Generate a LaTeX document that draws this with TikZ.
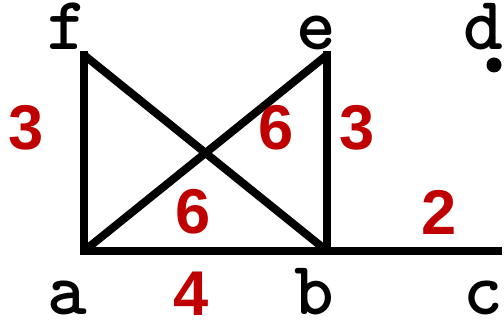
\documentclass[tikz,border=0pt]{standalone}
\usepackage{fontspec}
\newfontfamily\numfont{Liberation Sans}
\newfontfamily\vfont{lmmonolt10-bold}[Extension=.otf]
\definecolor{wred}{RGB}{192,0,0}
\begin{document}
\begin{tikzpicture}[x=0.02cm, y=-0.02cm,
        edge/.style={line width=0.16cm},
        flatedge/.style={line width=0.16cm, line cap=rect},
        vname/.style={font=\fontsize{43}{43}\selectfont\vfont, inner sep=0pt, anchor=base},
        weight/.style={font=\fontsize{36}{36}\selectfont\numfont\bfseries, text=wred, inner sep=0pt},
        dot/.style={circle, fill, inner sep=0pt, minimum size=0.3cm}
        ]
      \useasboundingbox (0,0) rectangle (504,320);
      \coordinate (a) at (84,251);
      \coordinate (b) at (327,251);
      \coordinate (c) at (498,251);
      \coordinate (e) at (327,55);
      \coordinate (f) at (84,55);
      \node[dot] (d) at (494,65) {};

      \node[vname] (fl) at (67,50) {f};
      \node[vname] (el) at (316,50) {e};
      \node[vname] (dl) at (483,50) {d};
      \node[vname] (al) at (67,315) {a};
      \node[vname] (bl) at (314,315) {b};
      \node[vname] (cl) at (483,315) {c};

      \draw[flatedge] (a) -- (f);
      \draw[flatedge] (b) -- (e);
      \draw[flatedge] (a) -- (b);
      \draw[flatedge] (b) -- (c);
      \draw[edge] (f) -- (b);
      \draw[edge] (a) -- (e);

      \node[weight] (waf) at (26,128) {3};
      \node[weight] (wae) at (276,128) {6};
      \node[weight] (wbe) at (357,128) {3};
      \node[weight] (wfb) at (193,212) {6};
      \node[weight] (wbc) at (439,212) {2};
      \node[weight] (wab) at (191,294) {4};

    \end{tikzpicture}
\end{document}
